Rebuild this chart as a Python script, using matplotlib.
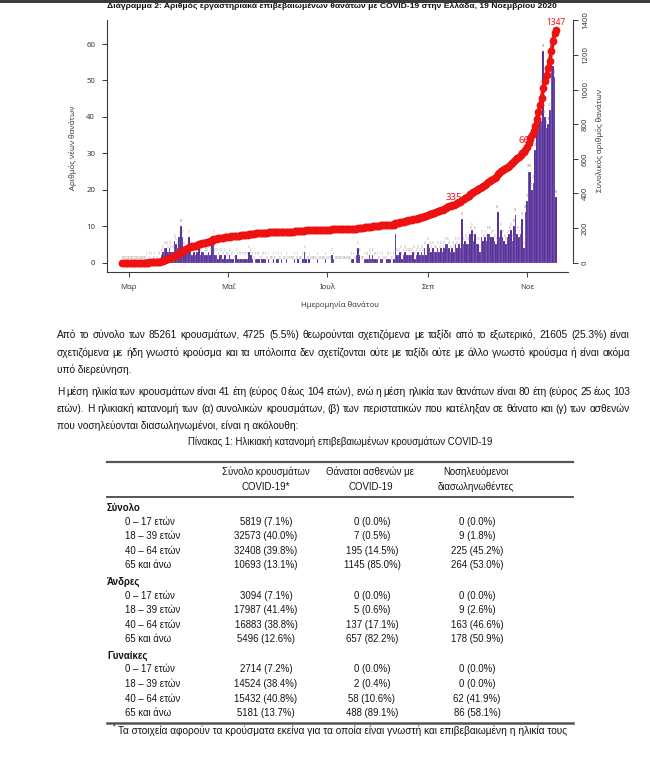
import numpy as np
import pandas as pd
import matplotlib
matplotlib.use('Agg')
import matplotlib.pyplot as plt
import matplotlib.dates as mdates
from matplotlib.patches import Rectangle
from matplotlib.lines import Line2D

BODY = ['Liberation Sans Narrow', 'Liberation Sans', 'DejaVu Sans']
CHART = ['Noto Sans', 'DejaVu Sans']
plt.rcParams['font.family'] = BODY

W, H = 650, 763

# new deaths per day, 26 Feb - 19 Nov 2020
deaths_feb = [0, 0, 0, 0]
deaths_mar = [0, 0, 0, 0, 0, 0, 0, 0, 0, 0, 0,
              1, 0, 1, 1, 0, 1, 0, 1, 1, 2, 3, 4, 4, 3, 4, 3, 3, 6, 5, 4]
deaths_apr = [7, 10, 7, 4, 3, 3, 7, 4, 2, 3, 2, 3, 4, 2, 3, 3, 2, 2, 3, 2,
              5, 7, 2, 2, 1, 2, 2, 1, 2, 1]
deaths_may = [1, 2, 1, 1, 0, 2, 1, 1, 1, 1, 1, 1, 1, 3, 2, 1, 0, 1, 1, 1,
              0, 1, 1, 1, 0, 1, 0, 0, 1, 0, 1]
deaths_jun = [1, 0, 1, 0, 0, 1, 0, 0, 0, 0, 1, 0, 1, 0, 0, 1, 3, 1, 0, 1,
              0, 0, 0, 0, 1, 0, 0, 0, 0, 1]
deaths_jul = [0, 0, 0, 2, 1, 0, 0, 0, 0, 0, 0, 0, 0, 0, 0, 1, 1, 0, 2, 4,
              2, 0, 0, 1, 1, 1, 2, 1, 2, 1, 1]
deaths_aug = [1, 0, 1, 1, 0, 0, 1, 1, 1, 0, 1, 8, 2, 2, 3, 1, 2, 3, 2, 2,
              2, 2, 3, 1, 2, 3, 2, 3, 2, 4, 2]
deaths_sep = [5, 4, 3, 4, 3, 3, 4, 3, 4, 3, 4, 5, 5, 4, 3, 4, 3,
              5, 4, 5, 4, 12, 5, 6, 5, 5, 8, 9, 6, 8]
deaths_oct = [5, 5, 3, 7, 6, 7, 6, 8, 8, 7, 7, 6, 5, 14, 7, 9, 7, 6, 5, 7,
              8, 9, 6, 10, 13, 8, 7, 8, 12, 4, 14]
deaths_nov = [17, 25, 25, 20, 22, 31, 40, 40, 39, 39, 58, 40, 37, 38, 42,
              60, 54, 51, 18]

daily_deaths = (deaths_feb + deaths_mar + deaths_apr + deaths_may + deaths_jun
                + deaths_jul + deaths_aug + deaths_sep + deaths_oct + deaths_nov)
dates = pd.date_range('2020-02-26', periods=len(daily_deaths), freq='D')
cum_deaths = np.cumsum(daily_deaths)
label_dates = ['2020-09-17', '2020-11-01', '2020-11-19']
label_sizes = [7, 7, 6]

month_ticks = ['2020-03-01', '2020-05-01', '2020-07-01', '2020-09-01', '2020-11-01']
month_labels = ['Μαρ', 'Μαΐ', 'Ιουλ', 'Σεπ', 'Νοε']

# table
group_names = ['Σύνολο', 'Άνδρες', 'Γυναίκες']
age_groups = ['0 – 17 ετών', '18 – 39 ετών', '40 – 64 ετών', '65 και άνω']
col_headers = [('Σύνολο κρουσμάτων', 'COVID-19*'),
               ('Θάνατοι ασθενών με', 'COVID-19'),
               ('Νοσηλευόμενοι', 'διασωληνωθέντες')]
cases = [[5819, 32573, 32408, 10693], [3094, 17987, 16883, 5496], [2714, 14524, 15432, 5181]]
cases_pct = [[7.1, 40.0, 39.8, 13.1], [7.1, 41.4, 38.8, 12.6], [7.2, 38.4, 40.8, 13.7]]
deaths_tbl = [[0, 7, 195, 1145], [0, 5, 137, 657], [0, 2, 58, 488]]
deaths_pct = [[0.0, 0.5, 14.5, 85.0], [0.0, 0.6, 17.1, 82.2], [0.0, 0.4, 10.6, 89.1]]
icu = [[0, 9, 225, 264], [0, 9, 163, 178], [0, 0, 62, 86]]
icu_pct = [[0.0, 1.8, 45.2, 53.0], [0.0, 2.6, 46.6, 50.9], [0.0, 0.0, 41.9, 58.1]]

title = ('Διάγραμμα 2: Αριθμός εργαστηριακά επιβεβαιωμένων θανάτων με COVID-19 '
         'στην Ελλάδα, 19 Νοεμβρίου 2020')
para1 = ['Από το σύνολο των 85261 κρουσμάτων, 4725 (5.5%) θεωρούνται σχετιζόμενα με ταξίδι από το εξωτερικό, 21605 (25.3%) είναι',
         'σχετιζόμενα με ήδη γνωστό κρούσμα και τα υπόλοιπα δεν σχετίζονται ούτε με ταξίδι ούτε με άλλο γνωστό κρούσμα ή είναι ακόμα',
         'υπό διερεύνηση.']
para2 = ['Η μέση ηλικία των κρουσμάτων είναι 41 έτη (εύρος 0 έως 104 ετών), ενώ η μέση ηλικία των θανάτων είναι 80 έτη (εύρος 25 έως 103',
         'ετών). Η ηλικιακή κατανομή των (α) συνολικών κρουσμάτων, (β) των περιστατικών που κατέληξαν σε θάνατο και (γ) των ασθενών',
         'που νοσηλεύονται διασωληνωμένοι, είναι η ακόλουθη:']
table_title = 'Πίνακας 1: Ηλικιακή κατανομή επιβεβαιωμένων κρουσμάτων COVID-19'
footnote = 'Τα στοιχεία αφορούν τα κρούσματα εκείνα για τα οποία είναι γνωστή και επιβεβαιωμένη η ηλικία τους'

BAR = '#4b2191'
RED = '#ee1111'
TXT = '#141414'
AXC = '#3a3a3a'


def fx(x):
    return x / W


def fy(y):
    return 1 - y / H


fig = plt.figure(figsize=(W / 100, H / 100), dpi=100)
fig.patch.set_facecolor('white')
renderer = fig.canvas.get_renderer()


def fit_size(s, target, family, weight='normal'):
    t = fig.text(0, 0, s, fontsize=10, family=family, fontweight=weight)
    w = t.get_window_extent(renderer).width
    t.remove()
    return 10 * target / w


fig.add_artist(Rectangle((0, fy(2.5)), 1, 2.5 / H, transform=fig.transFigure,
                         color='#3c3c3c', lw=0))
tsize = fit_size(title, 443, BODY, 'bold')
fig.text(fx(331.5), fy(6.5), title, fontsize=tsize, fontweight='bold', ha='center',
         va='center', color='#111111')

# ---- chart ----
ax = fig.add_axes([fx(107), fy(272), (568 - 107) / W, (272 - 20) / H])
ax.bar(dates, daily_deaths, width=1.0, color=BAR, edgecolor='white', linewidth=0.12,
       zorder=2)
for d, v in zip(dates, daily_deaths):
    ax.text(d, v + 1.4, str(v), fontsize=2.0, color='#8c8c8c', ha='center',
            va='center', zorder=2, family=CHART)

ax.set_ylim(-2.55, 66.6)
x0 = pd.Timestamp('2020-03-01') - pd.Timedelta(days=13.5)
x1 = pd.Timestamp('2020-11-01') + pd.Timedelta(days=25.2)
ax.set_xlim(x0, x1)
ax.set_yticks([0, 10, 20, 30, 40, 50, 60])
ax.set_xticks(pd.to_datetime(month_ticks))
ax.set_xticklabels(month_labels)
ax.tick_params(labelsize=5.6, colors=AXC, length=3.5, width=0.7, pad=5)
for t in ax.get_xticklabels() + ax.get_yticklabels():
    t.set_family(CHART)
for s in ['top', 'right']:
    ax.spines[s].set_visible(False)
for s in ['left', 'bottom']:
    ax.spines[s].set_linewidth(0.8)
    ax.spines[s].set_color(AXC)

ax2 = ax.twinx()
ax2.set_ylim(-53.7, 1402)
ax2.plot(dates, cum_deaths, color=RED, lw=2.8, marker='o', ms=4.6, mec=RED,
         zorder=3)
for s in ['top', 'left', 'bottom']:
    ax2.spines[s].set_visible(False)
ax2.spines['right'].set_position(('outward', 3.6))
ax2.spines['right'].set_bounds(0, 1400)
ax2.spines['right'].set_linewidth(0.8)
ax2.spines['right'].set_color(AXC)
ax2.set_yticks(range(0, 1401, 200))
ax2.tick_params(labelsize=5.6, colors=AXC, length=3.5, width=0.7, pad=3)
for t in ax2.get_yticklabels():
    t.set_rotation(90)
    t.set_va('center')
    t.set_family(CHART)

for ld, ls in zip(label_dates, label_sizes):
    i = dates.get_loc(pd.Timestamp(ld))
    ax.annotate(str(cum_deaths[i]), xy=(mdates.date2num(dates[i]), cum_deaths[i]),
                xycoords=ax2.transData, xytext=(0, 5), textcoords='offset points',
                ha='center', va='center', fontsize=ls, color=RED, zorder=1,
                fontweight='bold', family=CHART)

fig.text(fx(73), fy(148), 'Αριθμός νέων θανάτων', rotation=90, fontsize=5.6,
         ha='center', va='center', color=AXC, family=CHART)
fig.text(fx(600), fy(140), 'Συνολικός αριθμός θανάτων', rotation=90, fontsize=5.6,
         ha='center', va='center', color=AXC, family=CHART)
fig.text(fx(340), fy(305), 'Ημερομηνία θανάτου', fontsize=5.6, ha='center',
         va='center', color=AXC, family=CHART)

# ---- paragraphs ----
TSIZE = fit_size(table_title, 307, BODY)
PSIZE = TSIZE * 1.05


def justify(line, y, xa=57, xb=630, last=False):
    if last:
        fig.text(fx(xa), fy(y), line, fontsize=PSIZE, va='center', color=TXT)
        return
    words = line.split()
    texts = [fig.text(0, fy(y), w, fontsize=PSIZE, va='center', color=TXT) for w in words]
    widths = [t.get_window_extent(renderer).width for t in texts]
    gap = (xb - xa - sum(widths)) / (len(words) - 1)
    x = xa
    for t, w in zip(texts, widths):
        t.set_x(fx(x))
        x += w + gap


for i, (line, y) in enumerate(zip(para1, [335, 352.5, 369.5])):
    justify(line, y, last=(i == len(para1) - 1))
for i, (line, y) in enumerate(zip(para2, [392, 409, 426])):
    justify(line, y, last=(i == len(para2) - 1))

# ---- table ----
fig.text(fx(340), fy(441.5), table_title, fontsize=TSIZE, ha='center', va='center',
         color=TXT)
for y, lw in [(461.7, 1.6), (496.7, 1.4), (722.7, 1.8)]:
    fig.add_artist(Line2D([fx(107), fx(573)], [fy(y), fy(y)], color='#555555',
                          lw=lw, transform=fig.transFigure))

head_x = [266, 370.5, 476]
val_x = [266, 372, 477]
for (l1, l2), x in zip(col_headers, head_x):
    fig.text(fx(x), fy(471.5), l1, fontsize=TSIZE, ha='center', va='center', color=TXT)
    fig.text(fx(x), fy(487), l2, fontsize=TSIZE, ha='center', va='center', color=TXT)

for g, name in enumerate(group_names):
    gy = 508.3 + 73.9 * g
    fig.text(fx(107), fy(gy), name, fontsize=TSIZE, fontweight='bold', va='center',
             color='#111111')
    for r, age in enumerate(age_groups):
        ry = gy + 13.4 + 14.5 * r
        fig.text(fx(125), fy(ry), age, fontsize=TSIZE, va='center', color=TXT)
        vals = [f'{cases[g][r]} ({cases_pct[g][r]:.1f}%)',
                f'{deaths_tbl[g][r]} ({deaths_pct[g][r]:.1f}%)',
                f'{icu[g][r]} ({icu_pct[g][r]:.1f}%)']
        for v, x in zip(vals, val_x):
            fig.text(fx(x), fy(ry), v, fontsize=TSIZE, ha='center', va='center',
                     color=TXT)

FOOT = ['Liberation Sans', 'DejaVu Sans']
fsize = fit_size(footnote, 449, FOOT)
fig.text(fx(114.5), fy(726.5), '*', fontsize=fsize * 0.7, ha='center', va='center',
         color=TXT, family=FOOT)
fig.text(fx(118), fy(731), footnote, fontsize=fsize, va='center', color=TXT,
         family=FOOT)

fig.savefig('out.png', dpi=100)
